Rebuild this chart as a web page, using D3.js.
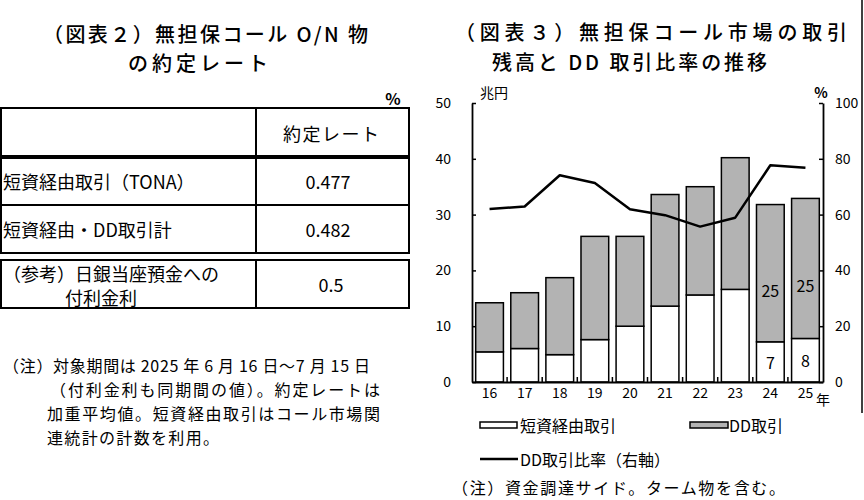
<!DOCTYPE html>
<html>
<head>
<meta charset="utf-8">
<script src="https://cdn.jsdelivr.net/npm/d3@7"></script>
<style>
    body { margin: 0; background: #fff; }
    svg { display: block; font-family: "Noto Sans CJK JP", sans-serif; }
    text { fill: #000; }
</style>
</head>
<body>
<script>
// data
const years = ["16", "17", "18", "19", "20", "21", "22", "23", "24", "25"];
const tanshi = [5.4, 6.0, 4.9, 7.6, 10.0, 13.6, 15.6, 16.6, 7.2, 7.8];
const ddTrade = [8.8, 10.0, 13.8, 18.5, 16.1, 20.0, 19.4, 23.6, 24.6, 25.1];
const ddRatio = [62.0, 62.9, 74.1, 71.3, 61.9, 59.8, 55.7, 58.9, 77.7, 76.8];
const labelledYears = ["24", "25"];
const leftTicks = [0, 10, 20, 30, 40, 50];
const rightTicks = [0, 20, 40, 60, 80, 100];

const tableRows = ["短資経由取引（TONA）", "短資経由・DD取引計"];
const tableValues = ["0.477", "0.482"];
const refLabel = ["（参考）日銀当座預金への", "付利金利"];
const refValue = "0.5";

const width = 864;
const height = 500;
const font = 14;

const svg = d3.select("body")
    .append("svg")
    .attr("width", width)
    .attr("height", height);

// titles
const titles = [
    { t: "（図表２）無担保コール O/N 物", x: 43, y: 33, w: 325 },
    { t: "の約定レート", x: 128, y: 62, w: 140 },
    { t: "（図表３）無担保コール市場の取引", x: 455, y: 31, w: 392 },
    { t: "残高と DD 取引比率の推移", x: 492, y: 61, w: 275 }
];
svg.append("g")
    .selectAll("text")
    .data(titles)
    .enter()
    .append("text")
    .attr("x", d => d.x)
    .attr("y", d => d.y)
    .attr("dominant-baseline", "central")
    .attr("textLength", d => d.w)
    .attr("lengthAdjust", "spacing")
    .style("font-size", "20px")
    .style("font-weight", 500)
    .text(d => d.t);

// ---------- table ----------
const table = svg.append("g").attr("class", "table");
const tL = 1, tR = 409, tCol = 256;
const rowLines = [108, 157, 205, 253];
const tFont = "18px";

table.append("rect")
    .attr("x", tL).attr("y", rowLines[0])
    .attr("width", tR - tL).attr("height", rowLines[3] - rowLines[0])
    .attr("fill", "none").attr("stroke", "#000").attr("stroke-width", 2);
table.append("line")
    .attr("x1", tL).attr("x2", tR).attr("y1", rowLines[1]).attr("y2", rowLines[1])
    .attr("stroke", "#000").attr("stroke-width", 4);
table.append("line")
    .attr("x1", tL).attr("x2", tR).attr("y1", rowLines[2]).attr("y2", rowLines[2])
    .attr("stroke", "#000").attr("stroke-width", 2);
table.append("line")
    .attr("x1", tCol).attr("x2", tCol).attr("y1", rowLines[0]).attr("y2", rowLines[3])
    .attr("stroke", "#000").attr("stroke-width", 2);

table.append("rect")
    .attr("x", tL).attr("y", 260)
    .attr("width", tR - tL).attr("height", 48)
    .attr("fill", "none").attr("stroke", "#000").attr("stroke-width", 2);
table.append("line")
    .attr("x1", tCol).attr("x2", tCol).attr("y1", 260).attr("y2", 308)
    .attr("stroke", "#000").attr("stroke-width", 2);

table.append("text")
    .attr("x", 393).attr("y", 98)
    .attr("text-anchor", "middle").attr("dominant-baseline", "central")
    .style("font-size", "16px").style("font-weight", "bold")
    .text("%");
table.append("text")
    .attr("x", 331).attr("y", 133)
    .attr("text-anchor", "middle").attr("dominant-baseline", "central")
    .attr("textLength", 96).attr("lengthAdjust", "spacing")
    .style("font-size", tFont)
    .text("約定レート");

tableRows.forEach((r, i) => {
    const cy = (rowLines[i + 1] + rowLines[i + 2]) / 2;
    table.append("text")
        .attr("x", 3).attr("y", cy)
        .attr("dominant-baseline", "central")
        .style("font-size", tFont)
        .text(r);
    table.append("text")
        .attr("x", 328).attr("y", cy)
        .attr("text-anchor", "middle").attr("dominant-baseline", "central")
        .style("font-size", tFont)
        .text(tableValues[i]);
});
table.append("text")
    .attr("x", 3).attr("y", 273)
    .attr("dominant-baseline", "central")
    .style("font-size", tFont)
    .text(refLabel[0]);
table.append("text")
    .attr("x", 65).attr("y", 297)
    .attr("dominant-baseline", "central")
    .style("font-size", tFont)
    .text(refLabel[1]);
table.append("text")
    .attr("x", 331).attr("y", 284)
    .attr("text-anchor", "middle").attr("dominant-baseline", "central")
    .style("font-size", tFont)
    .text(refValue);

// notes
const notes = [
    { t: "（注）対象期間は 2025 年 6 月 16 日～7 月 15 日", x: 3, y: 365, w: 367 },
    { t: "（付利金利も同期間の値）。約定レートは", x: 50, y: 389, w: 330 },
    { t: "加重平均値。短資経由取引はコール市場関", x: 47, y: 413, w: 333 },
    { t: "連統計の計数を利用。", x: 47, y: 437, w: 172 },
    { t: "（注）資金調達サイド。ターム物を含む。", x: 452, y: 487, w: 333 }
];
svg.append("g")
    .selectAll("text")
    .data(notes)
    .enter()
    .append("text")
    .attr("x", d => d.x)
    .attr("y", d => d.y)
    .attr("dominant-baseline", "central")
    .attr("textLength", d => d.w)
    .attr("lengthAdjust", "spacing")
    .style("font-size", "16px")
    .text(d => d.t);

// ---------- chart ----------
const cL = 472, cR = 823, cTop = 103, cBot = 382;

const x = d3.scaleBand()
    .domain(years)
    .range([cL, cR])
    .paddingInner(0.21)
    .paddingOuter(0.105);
const y = d3.scaleLinear().domain([0, 50]).range([cBot, cTop]);
const yR = d3.scaleLinear().domain([0, 100]).range([cBot, cTop]);

const chart = svg.append("g").attr("class", "chart");

const bars = chart.append("g")
    .selectAll("g")
    .data(years)
    .enter()
    .append("g");

bars.append("rect")
    .attr("x", d => x(d))
    .attr("width", x.bandwidth())
    .attr("y", (d, i) => y(tanshi[i]))
    .attr("height", (d, i) => y(0) - y(tanshi[i]))
    .attr("fill", "#fff")
    .attr("stroke", "#000")
    .attr("stroke-width", 1.5);

bars.append("rect")
    .attr("x", d => x(d))
    .attr("width", x.bandwidth())
    .attr("y", (d, i) => y(tanshi[i] + ddTrade[i]))
    .attr("height", (d, i) => y(tanshi[i]) - y(tanshi[i] + ddTrade[i]))
    .attr("fill", "#b3b3b3")
    .attr("stroke", "#000")
    .attr("stroke-width", 1.5);

// value labels on the last two bars
years.forEach((yr, i) => {
    if (!labelledYears.includes(yr)) return;
    const cx = x(yr) + x.bandwidth() / 2;
    chart.append("text")
        .attr("x", cx).attr("y", y(tanshi[i] / 2))
        .attr("text-anchor", "middle").attr("dominant-baseline", "central")
        .style("font-size", "16px")
        .text(Math.round(tanshi[i]));
    chart.append("text")
        .attr("x", cx).attr("y", y(tanshi[i] + ddTrade[i] * 0.38))
        .attr("text-anchor", "middle").attr("dominant-baseline", "central")
        .style("font-size", "16px")
        .text(Math.round(ddTrade[i]));
});

const line = d3.line()
    .x((d, i) => x(years[i]) + x.bandwidth() / 2)
    .y(d => yR(d));

chart.append("path")
    .datum(ddRatio)
    .attr("d", line)
    .attr("fill", "none")
    .attr("stroke", "#000")
    .attr("stroke-width", 2.5)
    .attr("stroke-linejoin", "round");

// axes
const leftAxis = d3.axisLeft(y)
    .tickValues(leftTicks)
    .tickSizeInner(-4)
    .tickSizeOuter(0)
    .tickPadding(21);
const rightAxis = d3.axisRight(yR)
    .tickValues(rightTicks)
    .tickSizeInner(-4)
    .tickSizeOuter(0)
    .tickPadding(12);

const gl = chart.append("g")
    .attr("transform", `translate(${cL},0)`)
    .call(leftAxis);
const gr = chart.append("g")
    .attr("transform", `translate(${cR},0)`)
    .call(rightAxis);

[gl, gr].forEach(g => {
    g.select(".domain").attr("stroke-width", 1.8);
    g.selectAll(".tick line").attr("stroke-width", 1.5);
    g.selectAll(".tick text")
        .attr("fill", "#000")
        .style("font-size", font + "px")
        .style("font-family", "\"Noto Sans CJK JP\", sans-serif");
});

// x baseline, ticks between bars, labels
const bottomAxis = d3.axisBottom(x).tickSize(0).tickPadding(6);
const gb = chart.append("g")
    .attr("transform", `translate(0,${cBot})`)
    .call(bottomAxis);
gb.select(".domain").attr("stroke-width", 1.8);
gb.selectAll(".tick text")
    .attr("fill", "#000")
    .style("font-size", font + "px")
    .style("font-family", "\"Noto Sans CJK JP\", sans-serif");

chart.append("g")
    .selectAll("line")
    .data(years.slice(1))
    .enter()
    .append("line")
    .attr("x1", d => x(d) - x.step() * x.paddingInner() / 2)
    .attr("x2", d => x(d) - x.step() * x.paddingInner() / 2)
    .attr("y1", cBot)
    .attr("y2", cBot - 5)
    .attr("stroke", "#000")
    .attr("stroke-width", 1.5);

chart.append("text")
    .attr("x", cR).attr("y", 399)
    .attr("text-anchor", "middle").attr("dominant-baseline", "central")
    .style("font-size", font + "px")
    .text("年");
chart.append("text")
    .attr("x", 480).attr("y", 92)
    .attr("dominant-baseline", "central")
    .style("font-size", font + "px")
    .text("兆円");
chart.append("text")
    .attr("x", 821).attr("y", 92)
    .attr("text-anchor", "middle").attr("dominant-baseline", "central")
    .style("font-size", font + "px").style("font-weight", "bold")
    .text("%");

// legend
const legend = chart.append("g").attr("class", "legend");
legend.append("rect")
    .attr("x", 480).attr("y", 422).attr("width", 37).attr("height", 6)
    .attr("fill", "#fff").attr("stroke", "#000").attr("stroke-width", 1.5);
legend.append("text")
    .attr("x", 520).attr("y", 425).attr("dominant-baseline", "central")
    .style("font-size", "16px").text("短資経由取引");
legend.append("rect")
    .attr("x", 690).attr("y", 422).attr("width", 38).attr("height", 6)
    .attr("fill", "#b3b3b3").attr("stroke", "#000").attr("stroke-width", 1.5);
legend.append("text")
    .attr("x", 729).attr("y", 425).attr("dominant-baseline", "central")
    .style("font-size", "16px").text("DD取引");
legend.append("line")
    .attr("x1", 480).attr("x2", 518).attr("y1", 459).attr("y2", 459)
    .attr("stroke", "#000").attr("stroke-width", 2.5);
legend.append("text")
    .attr("x", 520).attr("y", 459).attr("dominant-baseline", "central")
    .style("font-size", "16px").text("DD取引比率（右軸）");

// frame edge at right
svg.append("line")
    .attr("x1", 862).attr("x2", 862).attr("y1", 0).attr("y2", 413)
    .attr("stroke", "#000").attr("stroke-width", 1.5);
</script>
</body>
</html>
